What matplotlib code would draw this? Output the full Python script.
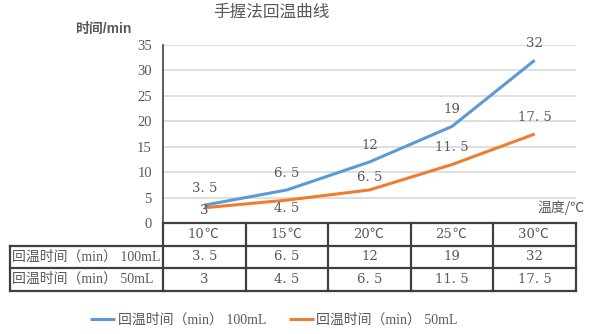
import matplotlib
matplotlib.use("Agg")
import matplotlib.pyplot as plt

# chart data
temperatures = ["10℃", "15℃", "20℃", "25℃", "30℃"]
time_100ml = [3.5, 6.5, 12, 19, 32]
time_50ml = [3, 4.5, 6.5, 11.5, 17.5]
series_names = ["回温时间（min） 100mL", "回温时间（min） 50mL"]
title_text = "手握法回温曲线"
y_label_text = "时间/min"
x_label_text = "温度/℃"
y_ticks = [0, 5, 10, 15, 20, 25, 30, 35]

# label offsets in points (above > 0, below < 0)
offsets_100ml = [12, 12, 12, 12, 12]
offsets_50ml = [-2, -6, 9, 12, 12]

BLUE = "#5B9BD5"
ORANGE = "#ED7D31"
TEXT = "#595959"
GRID = "#D9D9D9"
BORDER = "#3F3F3F"
SERIF = ["Liberation Serif", "Noto Sans CJK SC"]
NUM = ["DejaVu Serif", "Noto Sans CJK SC"]
CJK = ["Noto Sans CJK SC", "DejaVu Sans"]


def fmt(v):
    # wide decimal point spacing
    return f"{v:g}".replace(".", ". ")


W, H = 595, 334
fig = plt.figure(figsize=(W / 100, H / 100), dpi=100)

left_px, right_px, top_px, zero_px = 163, 576, 45, 223
ax = fig.add_axes([left_px / W, 1 - zero_px / H,
                   (right_px - left_px) / W, (zero_px - top_px) / H])

x = list(range(len(temperatures)))
ax.plot(x, time_100ml, color=BLUE, lw=2.2, solid_capstyle="butt", zorder=3)
ax.plot(x, time_50ml, color=ORANGE, lw=2.2, solid_capstyle="butt", zorder=3)

for xi, v, off in zip(x, time_100ml, offsets_100ml):
    ax.annotate(fmt(v), (xi, v), xytext=(0, off), textcoords="offset points",
                ha="center", va="center", fontsize=9.5, color=TEXT, family=NUM)
for xi, v, off in zip(x, time_50ml, offsets_50ml):
    ax.annotate(fmt(v), (xi, v), xytext=(0, off), textcoords="offset points",
                ha="center", va="center", fontsize=9.5, color=TEXT, family=NUM)

ax.set_xlim(-0.5, len(temperatures) - 0.5)
ax.set_ylim(0, 35)
ax.set_yticks(y_ticks)
ax.set_xticks([])
ax.yaxis.grid(True, color=GRID, lw=1.2)
ax.set_axisbelow(True)
ax.tick_params(axis="y", length=0, pad=8, labelsize=10.5, labelcolor=TEXT)
for lab in ax.get_yticklabels():
    lab.set_family(SERIF)
for side in ["top", "right", "bottom"]:
    ax.spines[side].set_visible(False)
ax.spines["left"].set_color(BORDER)
ax.spines["left"].set_linewidth(1.2)

# data table under the plot area
col_w = (right_px - left_px) / len(temperatures)
table_left_px, row_h = 10, 22.5
label_cols = (left_px - table_left_px) / col_w
tab = fig.add_axes([table_left_px / W, 1 - (zero_px + 3 * row_h) / H,
                    (right_px - table_left_px) / W, 3 * row_h / H])
tab.set_xlim(-0.5 - label_cols, len(temperatures) - 0.5)
tab.set_ylim(0, 3)
tab.axis("off")

xl, xa, xr = -0.5 - label_cols, -0.5, len(temperatures) - 0.5
lw = 1.6
tab.plot([xa, xr], [3, 3], color=BORDER, lw=lw, clip_on=False)
for yy in [2, 1, 0]:
    tab.plot([xl, xr], [yy, yy], color=BORDER, lw=lw, clip_on=False)
tab.plot([xl, xl], [0, 2], color=BORDER, lw=lw, clip_on=False)
for i in range(len(temperatures) + 1):
    tab.plot([i - 0.5, i - 0.5], [0, 3], color=BORDER, lw=lw, clip_on=False)

for i, t in enumerate(temperatures):
    tab.text(i, 2.5, t[:-1], ha="right", va="center", fontsize=9.5, color=TEXT, family=NUM)
    tab.text(i, 2.5, t[-1], ha="left", va="center", fontsize=10, color=TEXT, family=CJK)
for row_y, name, vals in [(1.5, series_names[0], time_100ml), (0.5, series_names[1], time_50ml)]:
    tab.text(xl + 0.02, row_y, name, ha="left", va="center", fontsize=10,
             color=TEXT, family=SERIF)
    for i, v in enumerate(vals):
        tab.text(i, row_y, fmt(v), ha="center", va="center", fontsize=9.5,
                 color=TEXT, family=NUM)

fig.text(271 / W, 1 - 12 / H, title_text, ha="center", va="center",
         fontsize=12, color=TEXT, family=CJK)
fig.text(131 / W, 1 - 29 / H, y_label_text, ha="right", va="center",
         fontsize=10, color=TEXT, family=["Liberation Sans", "Noto Sans CJK SC"],
         fontweight="bold")
fig.text(585 / W, 1 - 208 / H, x_label_text, ha="right", va="center",
         fontsize=10, color=TEXT, family=CJK)

handles = ax.get_lines()[:2]
leg = fig.legend(handles, series_names, loc="center", bbox_to_anchor=(274 / W, 1 - 320 / H),
                 ncol=2, frameon=False, handlelength=1.8, handletextpad=0.2,
                 columnspacing=1.6, prop={"family": SERIF, "size": 10})
for t in leg.get_texts():
    t.set_color(TEXT)

fig.savefig("out.png", dpi=100)
